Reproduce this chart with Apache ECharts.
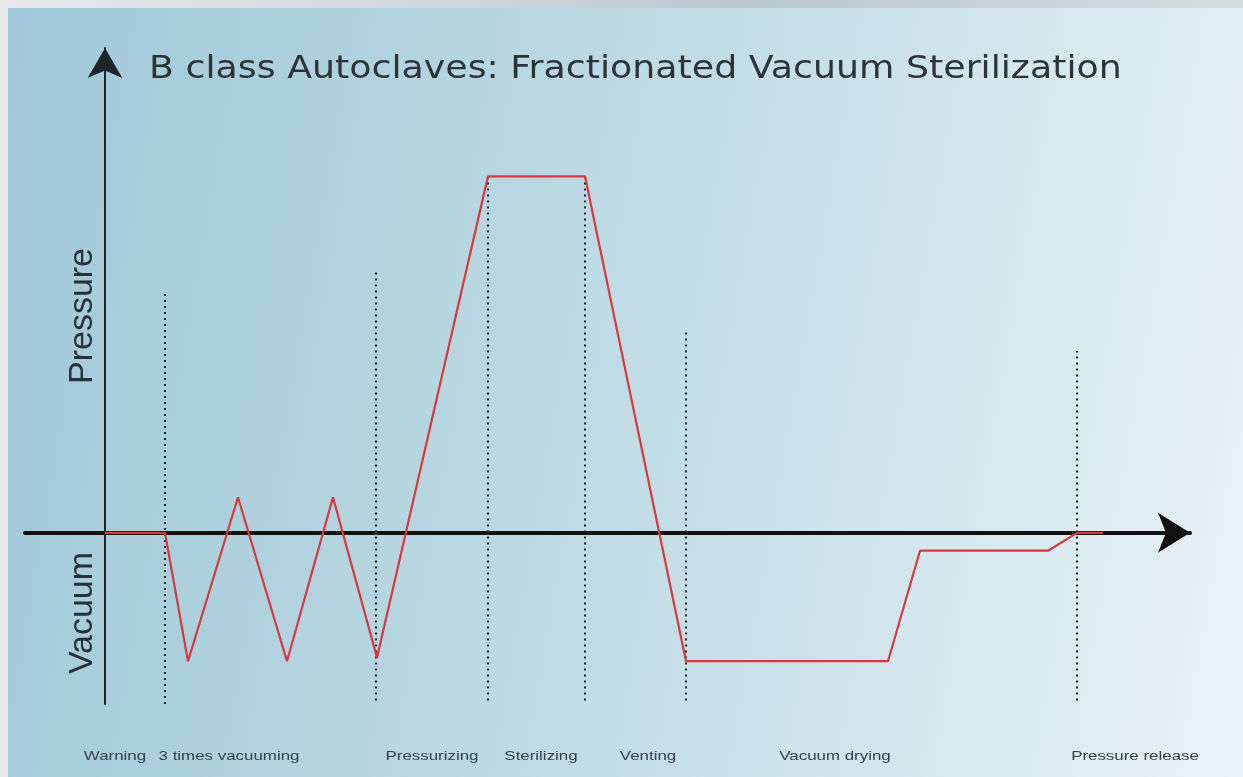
<!DOCTYPE html>
<html>
<head>
<meta charset="utf-8">
<title>B class Autoclaves</title>
<script src="https://cdn.jsdelivr.net/npm/echarts@6/dist/echarts.min.js"></script>
<style>
  html, body { margin: 0; padding: 0; width: 1243px; height: 777px; overflow: hidden;
    background: linear-gradient(90deg, #e6e8e9 0%, #cdd5da 40%, #b9c7cf 60%, #d6dcdf 100%); }
  #panel { position: absolute; left: 8px; top: 8px; right: 0; bottom: 0;
    background: linear-gradient(100deg, #a0c8d8 0%, #b2d3df 30%, #c8e0e8 60%, #e9f2f6 100%); }
  #chart { position: absolute; left: 0; top: 0; width: 1243px; height: 777px; }
</style>
</head>
<body>
<div id="panel"></div>
<div id="chart"></div>
<script>
// cycle curve: time in arbitrary units, pressure relative (100 = sterilizing plateau)
var cycleTime = [0, 6, 8.3, 13.3, 18.2, 22.8, 27.2, 38.3, 48, 58.1, 78.3, 81.5, 94.3, 97.2, 99.8];
var cyclePressure = [0, 0, -36, 10, -36, 10, -35, 100, 100, -36, -36, -5, -5, 0, 0];

// dotted phase separators
var phaseX = [6, 27.1, 38.3, 48, 58.1, 97.2];
var phaseTop = [68, 74, 100, 100, 57, 51];
var phaseBottom = [-48, -47, -47, -47, -47, -47];

// phase names under the chart
var stepNames = ['Warning', '3 times vacuuming', 'Pressurizing', 'Sterilizing', 'Venting', 'Vacuum drying', 'Pressure release'];
var stepX = [1.0, 12.4, 32.7, 43.6, 54.3, 73.0, 103.0];

var chart = echarts.init(document.getElementById('chart'));

var series = [{
  type: 'line',
  data: cycleTime.map(function (t, i) { return [t, cyclePressure[i]]; }),
  showSymbol: false,
  lineStyle: { color: '#d8393d', width: 2.2 },
  z: 5,
  silent: true
}];
phaseX.forEach(function (x, i) {
  series.push({
    type: 'line',
    data: [[x, phaseBottom[i]], [x, phaseTop[i]]],
    showSymbol: false,
    lineStyle: { color: '#15232a', width: 2, type: [2, 4] },
    z: 2,
    silent: true
  });
});

chart.setOption({
  animation: false,
  grid: { left: 25, right: 53, top: 48, bottom: 73 },
  xAxis: {
    type: 'value', min: -8, max: 108.5,
    axisLine: { onZero: true, symbol: ['none', 'arrow'], symbolSize: [30, 32],
      lineStyle: { color: '#111111', width: 4 } },
    axisTick: { show: false }, axisLabel: { show: false }, splitLine: { show: false }
  },
  yAxis: {
    type: 'value', min: -48, max: 136,
    axisLine: { show: true, onZero: true, symbol: ['none', 'arrow'], symbolSize: [26, 30],
      lineStyle: { color: '#1a262b', width: 2 } },
    axisTick: { show: false }, axisLabel: { show: false }, splitLine: { show: false }
  },
  series: series
});

var labelY = 756;
var graphics = [
  { type: 'text', x: 149, y: 70, scaleX: 1.135,
    style: { text: 'B class Autoclaves: Fractionated Vacuum Sterilization', font: '32px "DejaVu Sans"',
      fill: '#2c3438', align: 'left', verticalAlign: 'middle' } },
  { type: 'text', x: 83, y: 316, rotation: Math.PI / 2,
    style: { text: 'Pressure', font: '34px "Liberation Sans"', fill: '#26323a', align: 'center', verticalAlign: 'middle' } },
  { type: 'text', x: 83, y: 613, rotation: Math.PI / 2,
    style: { text: 'Vacuum', font: '34px "Liberation Sans"', fill: '#26323a', align: 'center', verticalAlign: 'middle' } }
];
stepNames.forEach(function (name, i) {
  var px = chart.convertToPixel({ gridIndex: 0 }, [stepX[i], 0])[0];
  graphics.push({ type: 'text', x: px, y: labelY, scaleX: 1.3,
    style: { text: name, font: '13px "Liberation Sans"', fill: '#36424a', align: 'center', verticalAlign: 'middle' } });
});
chart.setOption({ graphic: graphics });
</script>
</body>
</html>
